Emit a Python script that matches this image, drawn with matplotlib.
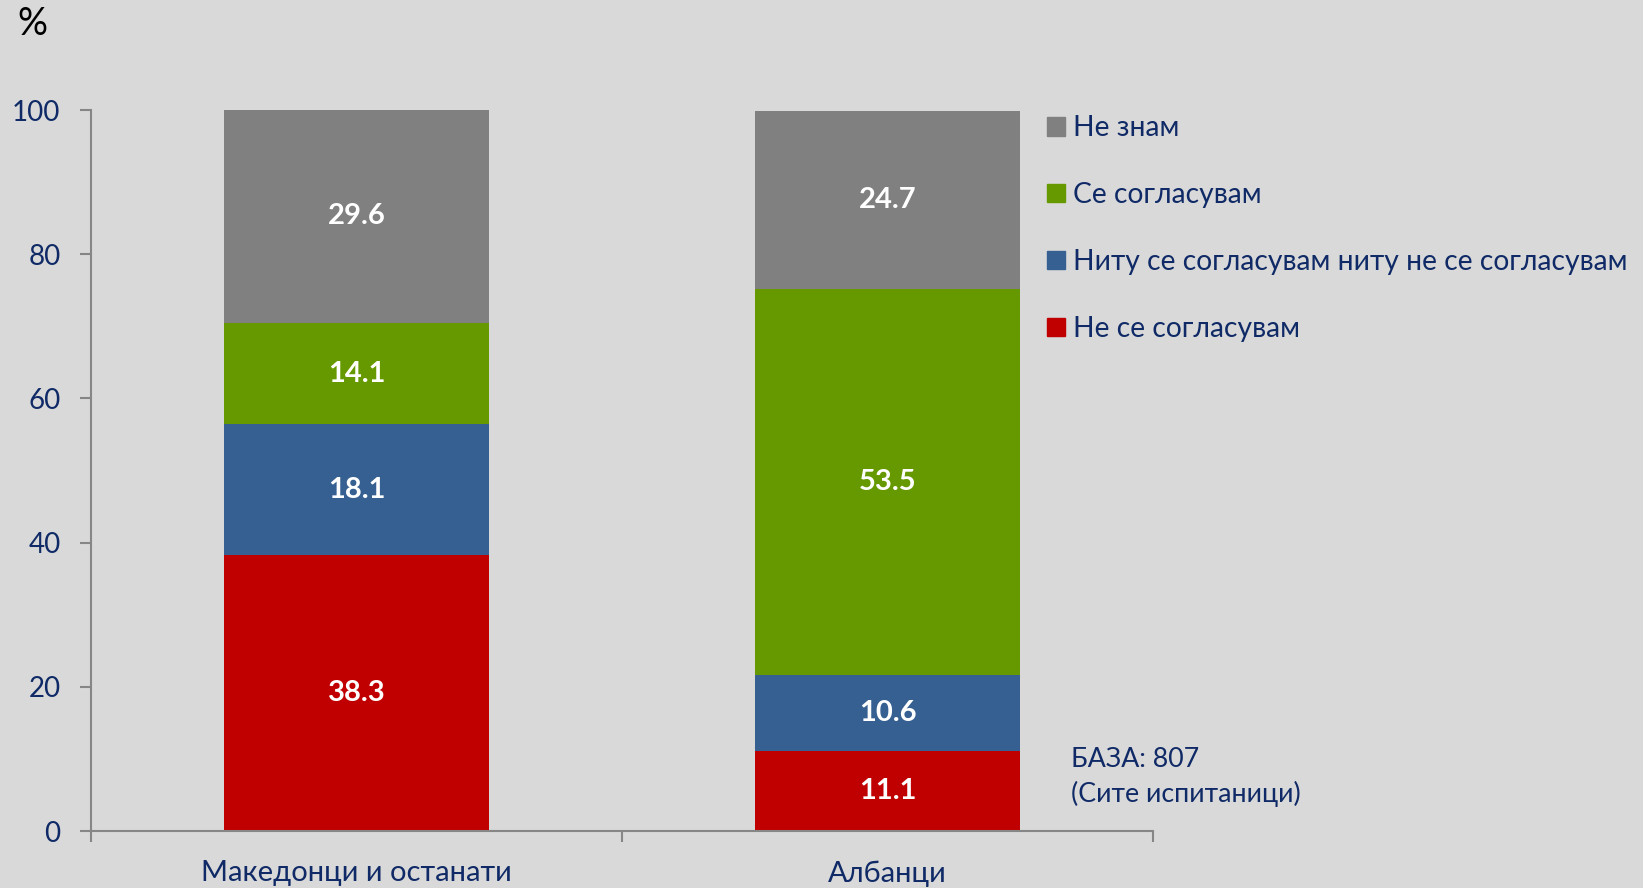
import matplotlib
matplotlib.use("Agg")
import matplotlib.pyplot as plt
from matplotlib.patches import Patch

categories = ["Македонци и останати", "Албанци"]
series_names = ["Не се согласувам", "Ниту се согласувам ниту не се согласувам", "Се согласувам", "Не знам"]
disagree = [38.3, 11.1]
neither = [18.1, 10.6]
agree = [14.1, 53.5]
dontknow = [29.6, 24.7]
yticks = [0, 20, 40, 60, 80, 100]

colors = ["#C00000", "#366092", "#669900", "#808080"]
navy = "#0F2A66"
bg = "#D9D9D9"
font = "Lato"

plt.rcParams['font.family'] = [font, 'DejaVu Sans']

fig = plt.figure(figsize=(16.43, 8.88), dpi=100, facecolor=bg)
W, H = 1643, 888
ax = fig.add_axes([91 / W, 1 - 831 / H, (1153 - 91) / W, (831 - 110) / H])
ax.set_facecolor(bg)

x = list(range(len(categories)))
bottom = [0.0] * len(categories)
for vals, c, name in zip([disagree, neither, agree, dontknow], colors, series_names):
    b = ax.bar(x, vals, width=0.5, bottom=bottom, color=c, label=name, zorder=2)
    ax.bar_label(b, labels=[f"{v:.1f}" for v in vals], label_type='center',
                 color='white', fontsize=21, fontweight='bold')
    bottom = [bo + v for bo, v in zip(bottom, vals)]

ax.set_xlim(-0.5, len(categories) - 0.5)
ax.set_ylim(0, 100)
ax.set_yticks(yticks)
ax.set_yticklabels([str(t) for t in yticks], fontsize=20, color=navy)
ax.tick_params(axis='y', length=8, color="#868686", width=1.5, pad=14)

ax.set_xticks([-0.5, 0.5, 1.5], minor=False)
ax.set_xticklabels([])
ax.tick_params(axis='x', length=8, color="#868686", width=1.5)
ax.set_xticks(x, minor=True)
ax.set_xticklabels(categories, minor=True, fontsize=21, color=navy)
ax.tick_params(axis='x', which='minor', length=0, pad=21)

for s in ['top', 'right']:
    ax.spines[s].set_visible(False)
for s in ['left', 'bottom']:
    ax.spines[s].set_color("#868686")
    ax.spines[s].set_linewidth(1.5)

handles = [Patch(color=c) for c in colors][::-1]
labels = series_names[::-1]
fig.legend(handles, labels, loc='upper left', bbox_to_anchor=(1036 / W, 1 - 104 / H),
           frameon=False, fontsize=20.3, labelcolor=navy, handlelength=0.63,
           handleheight=0.63, handletextpad=0.3, labelspacing=1.45, borderaxespad=0)

fig.text(17 / W, 1 - 24 / H, "%", fontsize=27, color='black', va='center', ha='left')
fig.text(1071 / W, 1 - 759 / H, "БАЗА: 807", fontsize=19.3, color=navy, va='center', ha='left')
fig.text(1071 / W, 1 - 794 / H, "(Сите испитаници)", fontsize=19.3, color=navy, va='center', ha='left')

fig.savefig("out.png", dpi=100, facecolor=bg)
